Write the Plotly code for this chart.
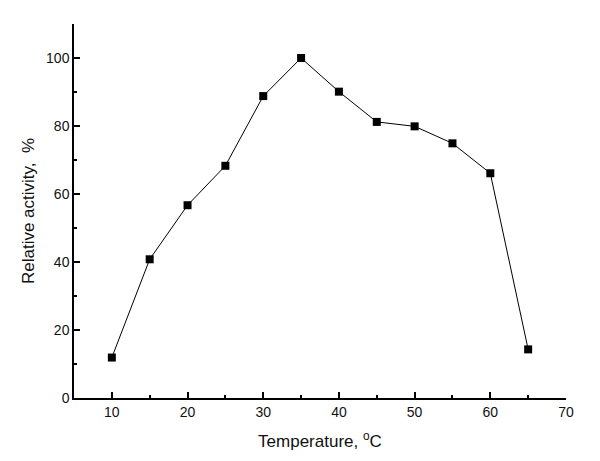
import plotly.graph_objects as go

temperature = [10, 15, 20, 25, 30, 35, 40, 45, 50, 55, 60, 65]
relative_activity = [11.9, 40.8, 56.7, 68.3, 88.8, 100.0, 90.1, 81.2, 79.9, 74.9, 66.1, 14.3]

x_ticks = [10, 20, 30, 40, 50, 60, 70]
y_ticks = [0, 20, 40, 60, 80, 100]

fig = go.Figure()
fig.add_trace(go.Scatter(
    x=temperature, y=relative_activity, mode="lines+markers",
    line=dict(color="black", width=1),
    marker=dict(symbol="square", size=8, color="black"),
    showlegend=False, cliponaxis=False,
))

font = "Liberation Sans, Arial, sans-serif"
fig.update_layout(
    width=600, height=461,
    margin=dict(l=74, r=34, t=24, b=63),
    paper_bgcolor="white", plot_bgcolor="white",
    font=dict(family=font, color="#111111"),
)
fig.update_xaxes(
    range=[5, 70], tickvals=x_ticks, ticks="inside", ticklen=6, tickwidth=1.5,
    tickcolor="black", showline=True, linecolor="black", linewidth=1.5,
    showgrid=False, zeroline=False, tickfont=dict(size=14, family=font),
    automargin=False,
    minor=dict(tickvals=[15, 25, 35, 45, 55, 65], ticks="inside", ticklen=3, tickwidth=1.5, tickcolor="black", showgrid=False),
    title=dict(text="Temperature, <sup>o</sup>C", font=dict(size=17, family=font), standoff=17),
)
fig.update_yaxes(
    range=[0, 110], tickvals=y_ticks, ticks="inside", ticklen=6, tickwidth=1.5,
    tickcolor="black", showline=True, linecolor="black", linewidth=1.5,
    showgrid=False, zeroline=False, tickfont=dict(size=14, family=font),
    automargin=False,
    minor=dict(tickvals=[10, 30, 50, 70, 90, 110], ticks="inside", ticklen=3, tickwidth=1.5, tickcolor="black", showgrid=False),
    title=dict(text="Relative activity,  %", font=dict(size=17, family=font), standoff=7),
)

fig.write_html(
    "out.html",
    config={"displayModeBar": False},
    post_script="document.body.style.margin='0';document.body.style.padding='0';",
)
